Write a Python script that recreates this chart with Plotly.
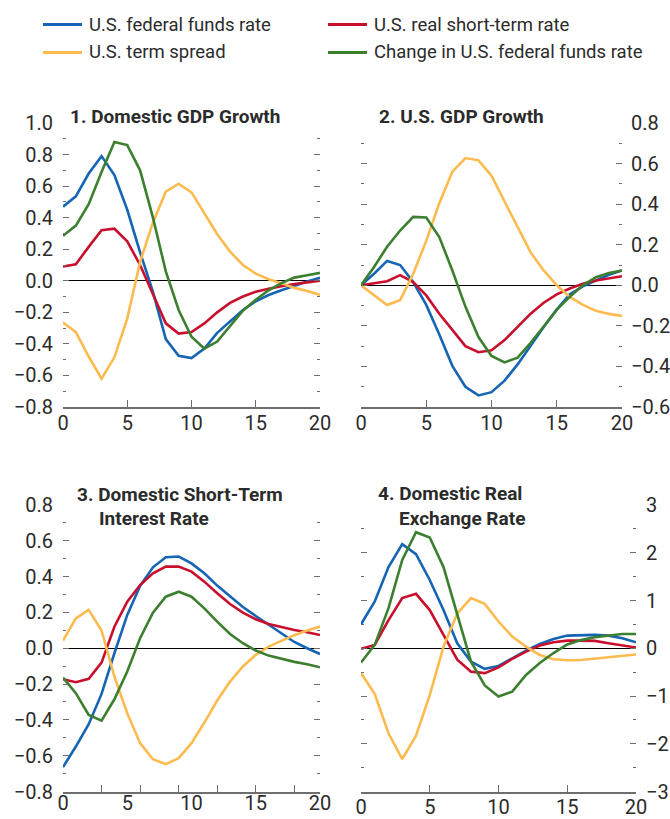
import plotly.graph_objects as go

W, H = 670, 819
FONT = "Roboto, Liberation Sans, sans-serif"
TXT = "#2b2b2b"
AXC = "#6e6e6e"

periods = list(range(21))

names = ["U.S. federal funds rate", "U.S. real short-term rate",
         "U.S. term spread", "Change in U.S. federal funds rate"]
colors = ["#1565b4", "#c8102e", "#fdbb4f", "#3b7f2f"]

titles = [["1. Domestic GDP Growth"],
          ["2. U.S. GDP Growth"],
          ["3. Domestic Short-Term", "Interest Rate"],
          ["4. Domestic Real", "Exchange Rate"]]

# Panel 1: Domestic GDP Growth
ffr1 = [0.47, 0.535, 0.68, 0.79, 0.67, 0.45, 0.18, -0.07, -0.37, -0.475, -0.49,
        -0.43, -0.33, -0.255, -0.185, -0.13, -0.09, -0.06, -0.03, -0.005, 0.02]
real1 = [0.09, 0.105, 0.215, 0.32, 0.33, 0.25, 0.10, -0.09, -0.27, -0.335, -0.325,
         -0.27, -0.2, -0.14, -0.10, -0.07, -0.05, -0.035, -0.02, -0.01, 0.0]
spread1 = [-0.265, -0.325, -0.48, -0.62, -0.485, -0.24, 0.12, 0.37, 0.565, 0.615, 0.56,
           0.425, 0.295, 0.185, 0.10, 0.045, 0.01, -0.015, -0.045, -0.065, -0.09]
chg1 = [0.285, 0.35, 0.485, 0.69, 0.88, 0.86, 0.70, 0.40, 0.06, -0.185, -0.355,
        -0.43, -0.385, -0.285, -0.19, -0.12, -0.06, -0.015, 0.02, 0.035, 0.05]

# Panel 2: U.S. GDP Growth
ffr2 = [0, 0.057, 0.12, 0.10, 0.016, -0.097, -0.243, -0.397, -0.50, -0.543, -0.527,
        -0.47, -0.39, -0.297, -0.206, -0.12, -0.044, -0.005, 0.025, 0.052, 0.073]
real2 = [0, 0.01, 0.02, 0.05, 0.016, -0.05, -0.14, -0.22, -0.30, -0.33, -0.32,
         -0.27, -0.205, -0.14, -0.086, -0.045, -0.016, 0.008, 0.024, 0.036, 0.045]
spread2 = [0, -0.05, -0.097, -0.073, 0.057, 0.219, 0.405, 0.56, 0.627, 0.616, 0.54,
           0.413, 0.284, 0.162, 0.073, 0.0, -0.057, -0.097, -0.125, -0.141, -0.151]
chg2 = [0, 0.09, 0.19, 0.27, 0.337, 0.334, 0.238, 0.073, -0.105, -0.255, -0.348,
        -0.38, -0.357, -0.284, -0.203, -0.12, -0.057, 0.0, 0.04, 0.06, 0.073]

# Panel 3: Domestic Short-Term Interest Rate
ffr3 = [-0.664, -0.549, -0.424, -0.255, -0.028, 0.186, 0.348, 0.452, 0.508, 0.512, 0.474,
        0.419, 0.35, 0.29, 0.23, 0.18, 0.13, 0.08, 0.035, 0.0, -0.032]
real3 = [-0.173, -0.19, -0.171, -0.08, 0.12, 0.26, 0.353, 0.419, 0.456, 0.456, 0.428,
         0.372, 0.307, 0.247, 0.199, 0.162, 0.136, 0.117, 0.102, 0.089, 0.074]
spread3 = [0.043, 0.167, 0.214, 0.099, -0.158, -0.363, -0.53, -0.62, -0.647, -0.614, -0.53,
           -0.415, -0.292, -0.186, -0.102, -0.037, 0.009, 0.043, 0.073, 0.099, 0.121]
chg3 = [-0.164, -0.251, -0.372, -0.404, -0.285, -0.13, 0.056, 0.199, 0.288, 0.316, 0.288,
        0.223, 0.149, 0.08, 0.028, -0.013, -0.041, -0.06, -0.076, -0.089, -0.106]

# Panel 4: Domestic Real Exchange Rate
ffr4 = [0.50, 0.98, 1.70, 2.18, 1.97, 1.43, 0.80, 0.105, -0.28, -0.43, -0.37,
        -0.21, -0.05, 0.09, 0.195, 0.265, 0.28, 0.28, 0.265, 0.21, 0.126]
real4 = [-0.01, 0.07, 0.59, 1.05, 1.14, 0.80, 0.28, -0.24, -0.49, -0.52, -0.40,
         -0.22, -0.07, 0.056, 0.126, 0.16, 0.16, 0.154, 0.105, 0.056, 0.014]
spread4 = [-0.52, -0.96, -1.78, -2.32, -1.83, -0.98, 0.035, 0.73, 1.05, 0.93, 0.56,
           0.245, 0.035, -0.14, -0.23, -0.25, -0.245, -0.22, -0.195, -0.17, -0.13]
chg4 = [-0.30, 0.07, 0.84, 1.85, 2.43, 2.32, 1.70, 0.70, -0.28, -0.78, -1.01,
        -0.91, -0.56, -0.31, -0.10, 0.08, 0.17, 0.23, 0.27, 0.30, 0.30]

panels = [[ffr1, real1, spread1, chg1],
          [ffr2, real2, spread2, chg2],
          [ffr3, real3, spread3, chg3],
          [ffr4, real4, spread4, chg4]]

x_ticks = [0, 5, 10, 15, 20]
x_ticks_p3 = [0, 3, 6, 9, 12, 15, 18, 20]
y_ticks = [
    [-0.8, -0.6, -0.4, -0.2, 0.0, 0.2, 0.4, 0.6, 0.8, 1.0],
    [-0.6, -0.4, -0.2, 0.0, 0.2, 0.4, 0.6, 0.8],
    [-0.8, -0.6, -0.4, -0.2, 0.0, 0.2, 0.4, 0.6, 0.8],
    [-3, -2, -1, 0, 1, 2, 3],
]
y_minor = [0.1, 0.1, 0.1, 0.5]
y_fmt = [".1f", ".1f", ".1f", "d"]

# layout geometry in pixels (left, right, top, bottom)
boxes = [(63, 320, 123, 407), (361, 622, 123, 407),
         (63, 320, 505, 791.5), (361, 636, 505, 791.5)]
y_side = ["left", "right", "left", "right"]
y_standoff = [9, 8, 9, 9]


def px(x):
    return x / W


def py(y):
    return 1 - y / H


fig = go.Figure()

for i, data in enumerate(panels):
    k = i + 1
    for name, col, vals in zip(names, colors, data):
        fig.add_trace(go.Scatter(
            x=periods, y=vals, mode="lines", name=name,
            line=dict(color=col, width=2.6),
            xaxis=f"x{k}", yaxis=f"y{k}", showlegend=False))

tickfont = dict(family=FONT, size=20, color=TXT)

for i in range(4):
    k = i + 1
    l, r, t, b = boxes[i]
    yt = y_ticks[i]
    xa = dict(domain=[px(l), px(r)], range=[0, 20], anchor=f"y{k}",
              showgrid=False, zeroline=False, showline=True, linecolor=AXC,
              linewidth=1.5, ticks="inside", ticklen=7, tickcolor=AXC, tickwidth=1.3,
              tickmode="array", tickvals=x_ticks, tickfont=tickfont,
              ticklabelstandoff=-3, fixedrange=True)
    if k == 3:
        xa.update(tickvals=x_ticks_p3, showticklabels=False)
    ya = dict(domain=[py(b), py(t)], range=[yt[0], yt[-1]], anchor=f"x{k}",
              side=y_side[i], showgrid=False, showline=False,
              zeroline=True, zerolinecolor="#000000", zerolinewidth=1,
              ticks="inside", ticklen=6, tickcolor=AXC, tickwidth=1.3,
              mirror="ticks", tickmode="array", tickvals=yt, tickformat=y_fmt[i],
              tickfont=tickfont, ticklabelstandoff=y_standoff[i],
              minor=dict(ticks="inside", ticklen=3, tickcolor=AXC, tickwidth=1.3,
                         dtick=y_minor[i], tick0=0),
              fixedrange=True)
    fig.layout[f"xaxis{k}"] = xa
    fig.layout[f"yaxis{k}"] = ya

# label-only axis for panel 3 (ticks and labels are offset in the original)
fig.add_trace(go.Scatter(x=[], y=[], xaxis="x5", yaxis="y3", showlegend=False,
                         hoverinfo="skip"))
fig.layout["xaxis5"] = dict(overlaying="x3", anchor="y3", range=[0, 20], side="bottom",
                            showgrid=False, zeroline=False, showline=False, ticks="",
                            tickmode="array", tickvals=x_ticks, tickfont=tickfont,
                            ticklabelstandoff=-3, fixedrange=True)

annotations = []
shapes = []

# panel titles
title_pos = [[(68, 116.7)], [(377, 116.7)],
             [(75, 494), (97, 518)], [(376, 493.5), (397, 518)]]
for lines, poss in zip(titles, title_pos):
    for txt, (x0, y0) in zip(lines, poss):
        annotations.append(dict(
            text=txt, x=px(x0), y=py(y0), xref="paper", yref="paper",
            xanchor="left", yanchor="middle", showarrow=False,
            font=dict(family=FONT, size=19, color=TXT, weight="bold")))

# legend (2 x 2)
leg_pos = [(43, 24.5), (328, 24.5), (43, 52.5), (328, 52.5)]
for name, col, (x0, y0) in zip(names, colors, leg_pos):
    shapes.append(dict(type="line", xref="paper", yref="paper",
                       x0=px(x0), x1=px(x0 + 39), y0=py(y0), y1=py(y0),
                       line=dict(color=col, width=3)))
    annotations.append(dict(
        text=name, x=px(x0 + 44), y=py(y0), xref="paper", yref="paper",
        xanchor="left", yanchor="middle", showarrow=False,
        font=dict(family=FONT, size=18.5, color=TXT)))

fig.update_layout(
    width=W, height=H,
    margin=dict(l=0, r=0, t=0, b=0, autoexpand=False),
    paper_bgcolor="white", plot_bgcolor="white",
    annotations=annotations, shapes=shapes,
    showlegend=False,
    font=dict(family=FONT, color=TXT),
)

fig.write_html("out.html", config={"displayModeBar": False},
               post_script="document.body.style.margin='0';"
                           "document.body.style.padding='0';"
                           "document.documentElement.style.overflow='hidden';")
